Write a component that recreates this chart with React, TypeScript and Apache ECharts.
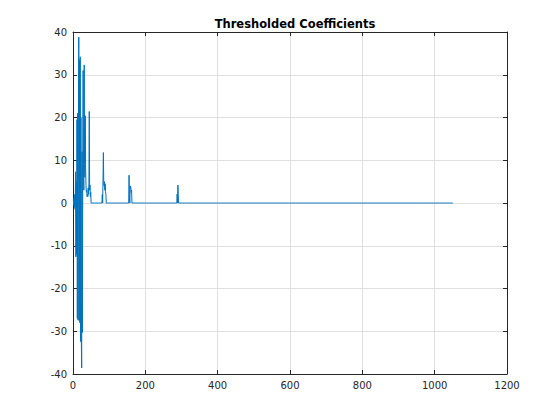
import React, { useEffect, useRef } from "react";
import * as echarts from "echarts";

// Number of coefficients (indices 1..coefficientCount)
const coefficientCount = 1051;

// Indices of non-zero thresholded coefficients
const nonzeroIndex = [
  1, 2, 3, 4, 5, 6, 7, 8, 9, 10, 11, 12, 13, 14, 15, 16, 17, 18, 19, 20,
  21, 22, 23, 24, 25, 26, 27, 28, 29, 30, 31, 32, 33, 34, 35, 36, 37, 38, 39, 40,
  41, 42, 43, 44, 45, 46, 47, 48, 49,
  81, 84, 85, 86, 87, 88, 89, 90, 91,
  155, 156, 158, 159, 160, 161, 162,
  288, 290, 291,
];

// Their values
const nonzeroValue = [
  0.8, -0.6, 1.2, -1.0, 2.0, -1.5, 7.3, -12.6, 5.0, -12.0, 19.5, -27.0, 21.0, -27.4, 20.0, 38.8, -27.5, 33.5, -28.0, 34.2,
  -32.4, 20.0, -32.0, -38.6, 12.0, -30.3, 9.0, 31.0, 6.0, 3.0, 32.3, 9.0, 6.0, 20.4, 7.5, 4.0, 2.5, 3.0, 1.5, 2.0,
  1.5, 3.5, 2.0, 4.6, 21.4, 3.0, 4.2, 1.5, 2.5,
  2.0, 11.8, 5.0, 4.0, 5.0, 3.0, 4.5, 2.7, 2.0,
  6.5, 2.0, 3.2, 4.0, 3.5, 2.5, 3.0,
  2.1, 4.2, 2.0,
];

const xTicks = [0, 200, 400, 600, 800, 1000, 1200];
const yTicks = [-40, -30, -20, -10, 0, 10, 20, 30, 40];

const titleText = "Thresholded Coefficients";

export default function App() {
  const ref = useRef<HTMLDivElement>(null);

  useEffect(() => {
    if (!ref.current) return;
    const chart = echarts.init(ref.current, undefined, { renderer: "svg" });

    const valueMap = new Map<number, number>();
    nonzeroIndex.forEach((idx, k) => valueMap.set(idx, nonzeroValue[k]));
    const data: [number, number][] = [];
    for (let i = 1; i <= coefficientCount; i++) {
      data.push([i, valueMap.get(i) ?? 0]);
    }

    const axisColor = "#262626";
    const gridColor = "#dfdfdf";
    const font = "DejaVu Sans, sans-serif";

    const xMin = xTicks[0];
    const xMax = xTicks[xTicks.length - 1];
    const xInt = xTicks[1] - xTicks[0];
    const yMin = yTicks[0];
    const yMax = yTicks[yTicks.length - 1];
    const yInt = yTicks[1] - yTicks[0];

    const baseX = {
      type: "value" as const,
      min: xMin,
      max: xMax,
      interval: xInt,
      axisLine: { show: true, onZero: false, lineStyle: { color: axisColor, width: 1 } },
      axisTick: { show: true, inside: true, length: 4, lineStyle: { color: axisColor } },
    };
    const baseY = {
      type: "value" as const,
      min: yMin,
      max: yMax,
      interval: yInt,
      axisLine: { show: true, onZero: false, lineStyle: { color: axisColor, width: 1 } },
      axisTick: { show: true, inside: true, length: 4, lineStyle: { color: axisColor } },
    };

    chart.setOption({
      animation: false,
      backgroundColor: "#ffffff",
      title: {
        text: titleText,
        left: 290,
        textAlign: "center",
        top: 13,
        textStyle: {
          fontFamily: font,
          fontSize: 11.5,
          fontWeight: "bold",
          color: "#000000",
        },
      },
      grid: { left: 73, right: 53, top: 32, bottom: 46, containLabel: false },
      xAxis: [
        {
          ...baseX,
          position: "bottom",
          axisLabel: {
            show: true,
            margin: 6,
            color: axisColor,
            fontFamily: font,
            fontSize: 10,
            formatter: (v: number) => String(v),
          },
          splitLine: { show: true, lineStyle: { color: gridColor, width: 1 } },
        },
        {
          ...baseX,
          position: "top",
          axisLabel: { show: false },
          splitLine: { show: false },
        },
      ],
      yAxis: [
        {
          ...baseY,
          position: "left",
          axisLabel: {
            show: true,
            margin: 6,
            color: axisColor,
            fontFamily: font,
            fontSize: 10,
            formatter: (v: number) => String(v),
          },
          splitLine: { show: true, lineStyle: { color: gridColor, width: 1 } },
        },
        {
          ...baseY,
          position: "right",
          axisLabel: { show: false },
          splitLine: { show: false },
        },
      ],
      series: [
        {
          type: "line",
          data,
          xAxisIndex: 0,
          yAxisIndex: 0,
          showSymbol: false,
          symbol: "none",
          lineStyle: { color: "#0072BD", width: 1 },
          itemStyle: { color: "#0072BD" },
          z: 3,
        },
      ],
    });

    return () => chart.dispose();
  }, []);

  return (
    <div
      ref={ref}
      style={{ position: "absolute", left: 0, top: 0, width: 560, height: 420 }}
    />
  );
}
